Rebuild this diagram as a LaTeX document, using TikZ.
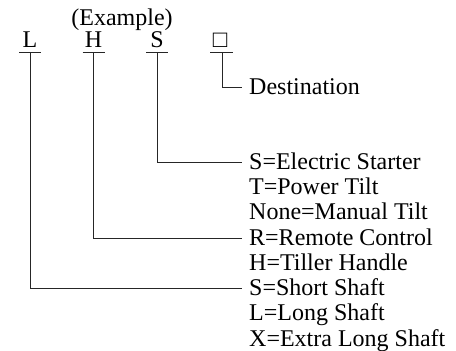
\documentclass[tikz,border=0pt]{standalone}
\usepackage{fontspec}
\setmainfont{Liberation Serif}
\begin{document}
\begin{tikzpicture}[x=1pt,y=1pt,
  fnt/.style={font=\fontsize{24}{26}\selectfont},
  txt/.style={fnt, inner sep=0pt, anchor=base west},
  letter/.style={fnt, inner sep=0pt, text depth=0pt, anchor=base},
  conn/.style={draw=black!85, line width=0.8pt}]
\useasboundingbox (0,0) rectangle (456,-351);
\node[fnt, inner sep=0pt, anchor=base] (ex) at (122,-25.5) {(Example)};
\node[letter] (lL) at (30,-47.5) {L};
\node[letter] (lH) at (93.5,-47.5) {H};
\node[letter] (lS) at (157,-47.5) {S};
\node[letter] (lD) at (220,-47.5) {□};
% underlines below each letter
\coordinate (uL) at ([yshift=-4.5pt]lL.base);
\coordinate (uH) at ([yshift=-4.5pt]lH.base);
\coordinate (uS) at ([yshift=-4.5pt]lS.base);
\coordinate (uD) at ([xshift=2pt,yshift=-4.5pt]lD.base);
\draw[conn] ([xshift=-11pt]uL) -- ([xshift=11pt]uL);
\draw[conn] ([xshift=-11pt]uH) -- ([xshift=11pt]uH);
\draw[conn] ([xshift=-11pt]uS) -- ([xshift=11pt]uS);
\draw[conn] ([xshift=-12pt]uD) -- ([xshift=11pt]uD);
\node[txt] (dest) at (249,-94) {Destination};
\node[txt] (oES) at (249,-169) {S=Electric Starter};
\node[txt] (oPT) at (249,-194.3) {T=Power Tilt};
\node[txt] (oMT) at (249,-219.6) {None=Manual Tilt};
\node[txt] (oRC) at (249,-245) {R=Remote Control};
\node[txt] (oTH) at (249,-270.2) {H=Tiller Handle};
\node[txt] (oSS) at (249,-295.5) {S=Short Shaft};
\node[txt] (oLS) at (249,-320.8) {L=Long Shaft};
\node[txt] (oXS) at (249,-346.1) {X=Extra Long Shaft};
\draw[conn] (uD) |- ([xshift=-7pt,yshift=6.8pt]dest.base west);
\draw[conn] (uS) |- ([xshift=-7pt,yshift=6.8pt]oES.base west);
\draw[conn] (uH) |- ([xshift=-7pt,yshift=6.8pt]oRC.base west);
\draw[conn] (uL) |- ([xshift=-7pt,yshift=6.8pt]oSS.base west);
\end{tikzpicture}
\end{document}
